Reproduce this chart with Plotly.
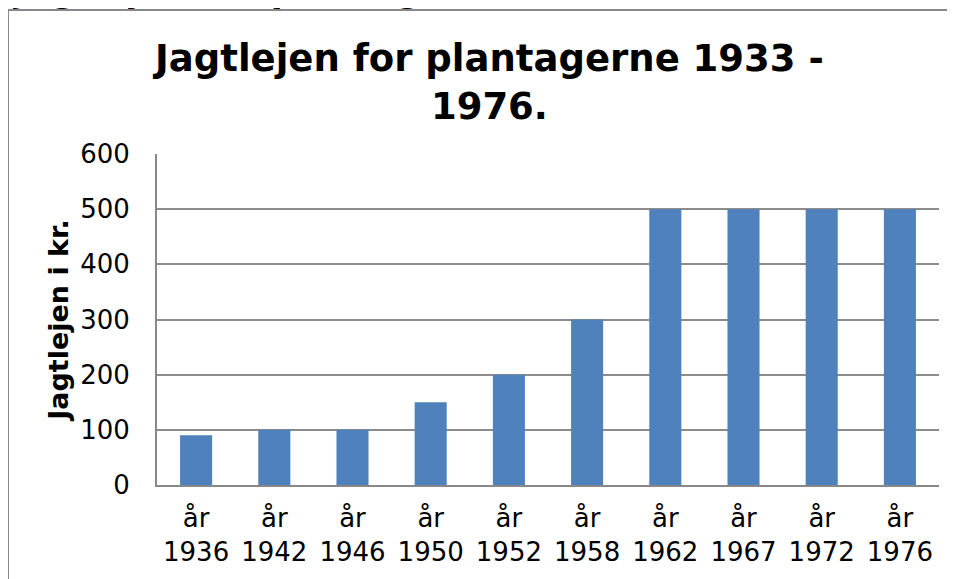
import plotly.graph_objects as go

years = ["1936", "1942", "1946", "1950", "1952", "1958", "1962", "1967", "1972", "1976"]
rent = [90, 100, 100, 150, 200, 300, 500, 500, 500, 500]
tick_labels = ["år<br>" + y for y in years]
y_ticks = [0, 100, 200, 300, 400, 500, 600]

# page body has an 8px margin; work in target-picture pixels and shift
OFF = 8
W, H = 955 - OFF, 579 - OFF
L, R, T, B = 157 - OFF, 955 - 939, 154 - OFF, 579 - 485
pw, ph = W - L - R, H - T - B

def px_x(px):
    return (px - OFF - L) / pw

def px_y(py):
    return (H - B - (py - OFF)) / ph

fig = go.Figure()
fig.add_trace(go.Bar(
    x=tick_labels, y=rent,
    marker=dict(color="#4F81BD", line=dict(width=0)),
))

font = "DejaVu Sans, Verdana, sans-serif"

fig.update_layout(
    width=W, height=H,
    margin=dict(l=L, r=R, t=T, b=B),
    paper_bgcolor="white", plot_bgcolor="white",
    bargap=0.59,
    showlegend=False,
    font=dict(family=font, color="black", size=26),
    xaxis=dict(
        type="category",
        showgrid=False,
        showline=True, linecolor="#888888", linewidth=2,
        ticks="", tickfont=dict(size=26, family=font),
        ticklabelstandoff=9,
    ),
    yaxis=dict(
        range=[0, 600], tickvals=y_ticks,
        showgrid=True, gridcolor="#8c8c8c", gridwidth=1.5,
        showline=True, linecolor="#888888", linewidth=2,
        zeroline=False,
        ticks="", tickfont=dict(size=26, family=font),
        ticklabelstandoff=20,
        title=dict(text="<b>Jagtlejen i kr.</b>", font=dict(size=27, family=font), standoff=4),
    ),
    annotations=[
        dict(text="<b>Jagtlejen for plantagerne 1933 -<br>1976.</b>",
             xref="paper", yref="paper", x=px_x(488), y=px_y(35),
             xanchor="center", yanchor="top", showarrow=False,
             font=dict(size=37, family=font), align="center"),
        dict(text="<b>Jagtlejen for plantagerne 1933 - 1976.</b>",
             xref="paper", yref="paper", x=px_x(11), y=px_y(12),
             xanchor="left", yanchor="bottom", showarrow=False,
             font=dict(size=35, family=font)),
    ],
    shapes=[
        dict(type="rect", xref="paper", yref="paper",
             x0=px_x(8), x1=px_x(975), y0=px_y(600), y1=px_y(10),
             line=dict(color="#888888", width=2), fillcolor="rgba(0,0,0,0)", layer="below"),
    ],
)

fig.write_html("out.html")
